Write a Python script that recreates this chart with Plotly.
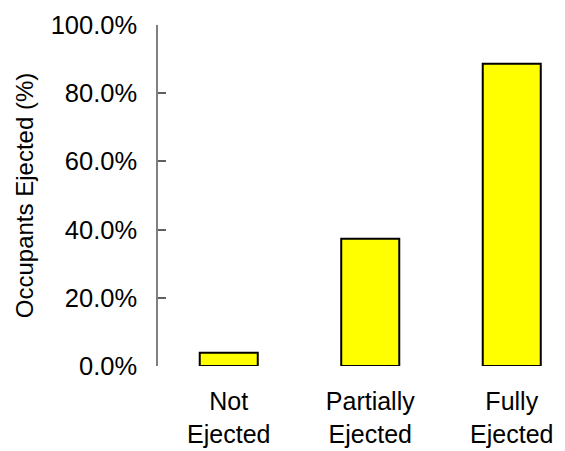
import plotly.graph_objects as go

# Share of occupants ejected by ejection category
categories = ["Not<br>Ejected", "Partially<br>Ejected", "Fully<br>Ejected"]
ejected_pct = [3.9, 37.3, 88.6]
y_ticks = [0, 20, 40, 60, 80, 100]
y_tick_labels = ["0.0%", "20.0%", "40.0%", "60.0%", "80.0%", "100.0%"]

font_family = "Arial, Liberation Sans, sans-serif"

fig = go.Figure(
    go.Bar(
        x=list(range(len(categories))),
        y=ejected_pct,
        width=0.41,
        marker=dict(color="#FFFF00", line=dict(color="black", width=2)),
    )
)

fig.update_layout(
    width=565,
    height=451,
    margin=dict(l=158, r=5, t=25, b=85),
    paper_bgcolor="white",
    plot_bgcolor="white",
    showlegend=False,
    font=dict(family=font_family, color="black", size=25),
    xaxis=dict(
        range=[-0.5, 2.341],
        tickmode="array",
        tickvals=list(range(len(categories))),
        ticktext=categories,
        showline=False,
        showgrid=False,
        zeroline=False,
        ticks="",
        tickfont=dict(size=25),
        ticklabelstandoff=18,
        automargin=False,
    ),
    yaxis=dict(
        range=[0, 100],
        tickmode="array",
        tickvals=y_ticks,
        ticktext=y_tick_labels,
        showline=True,
        linecolor="#808080",
        linewidth=1.5,
        ticks="inside",
        ticklen=8,
        tickwidth=1.5,
        tickcolor="#606060",
        showgrid=False,
        zeroline=False,
        tickfont=dict(size=25.5),
        ticklabelstandoff=14,
        automargin=False,
        title=dict(text="Occupants Ejected (%)", font=dict(size=24), standoff=10),
    ),
)

fig.write_html("out.html")
